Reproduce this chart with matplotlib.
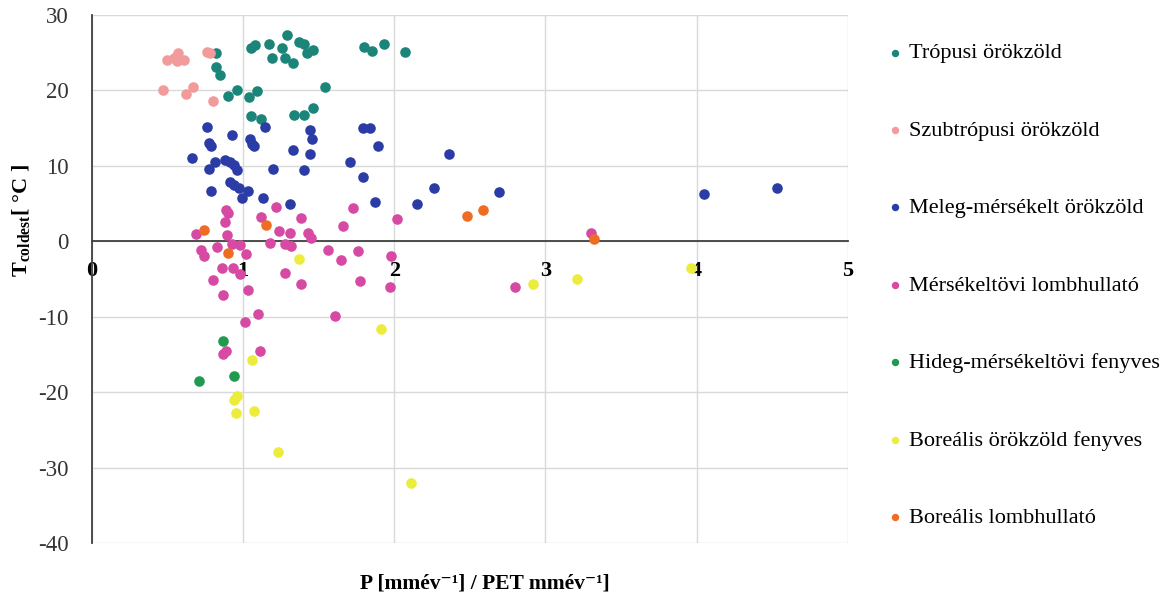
import matplotlib
matplotlib.use("Agg")
import matplotlib.pyplot as plt

serif = ['Liberation Serif', 'DejaVu Serif']
plt.rcParams['font.family'] = serif
plt.rcParams['axes.unicode_minus'] = False
plt.rcParams['mathtext.fontset'] = 'custom'
plt.rcParams['mathtext.rm'] = 'Liberation Serif'
plt.rcParams['mathtext.bf'] = 'Liberation Serif:bold'

# Trópusi örökzöld
trop_x = [0.82, 0.82, 0.85, 0.90, 0.96, 1.04, 1.09, 1.05, 1.12, 1.05, 1.08, 1.17, 1.19, 1.26,
          1.29, 1.28, 1.33, 1.37, 1.40, 1.42, 1.46, 1.34, 1.40, 1.46, 1.54, 1.80, 1.85, 1.93, 2.07]
trop_y = [24.9, 23.1, 22.1, 19.2, 20.1, 19.1, 19.9, 16.6, 16.2, 25.6, 26.0, 26.1, 24.3, 25.6,
          27.3, 24.3, 23.7, 26.4, 26.1, 24.9, 25.4, 16.7, 16.7, 17.7, 20.4, 25.7, 25.2, 26.2, 25.1]

# Szubtrópusi örökzöld
subtrop_x = [0.50, 0.54, 0.57, 0.61, 0.56, 0.76, 0.78, 0.47, 0.62, 0.67, 0.80]
subtrop_y = [24.1, 24.3, 24.9, 24.0, 23.9, 25.1, 24.9, 20.1, 19.5, 20.5, 18.6]

# Meleg-mérsékelt örökzöld
warm_x = [0.76, 0.925, 0.775, 0.786, 0.664, 0.815, 0.777, 0.88, 0.914, 0.94, 0.958, 0.914,
          0.94, 0.974, 1.035, 0.786, 0.99, 1.13, 1.31, 1.046, 1.058, 1.075, 1.146, 1.20, 1.33,
          1.44, 1.455, 1.44, 1.40, 1.79, 1.84, 1.89, 1.71, 1.79, 1.87, 2.15, 2.26, 2.36, 2.69,
          4.05, 4.53]
warm_y = [15.2, 14.1, 13.0, 12.6, 11.1, 10.5, 9.6, 10.8, 10.5, 10.1, 9.4, 7.9,
          7.5, 7.1, 6.7, 6.7, 5.7, 5.7, 5.0, 13.5, 12.9, 12.6, 15.2, 9.6, 12.1,
          14.8, 13.5, 11.6, 9.4, 15.0, 15.0, 12.6, 10.5, 8.5, 5.2, 5.0, 7.0, 11.6, 6.5,
          6.3, 7.0]

# Mérsékeltövi lombhullató
decid_x = [0.887, 0.90, 0.88, 0.69, 0.896, 0.925, 0.98, 0.72, 0.74, 0.826, 1.02, 0.86, 0.936,
           0.98, 0.80, 0.87, 1.035, 1.12, 1.22, 1.24, 1.31, 1.18, 1.28, 1.32, 1.28, 1.38, 1.43,
           1.45, 1.56, 1.38, 1.65, 1.73, 1.66, 2.02, 1.76, 1.98, 1.775, 1.97, 3.30, 2.80, 1.10,
           1.01, 1.61, 0.89, 0.87, 1.11]
decid_y = [4.2, 3.75, 2.6, 1.0, 0.8, -0.3, -0.5, -1.1, -2.0, -0.75, -1.7, -3.6, -3.6,
           -4.3, -5.1, -7.1, -6.4, 3.2, 4.6, 1.4, 1.1, -0.2, -0.4, -0.6, -4.2, 3.1, 1.1,
           0.5, -1.2, -5.6, -2.5, 4.4, 2.0, 2.9, -1.3, -1.9, -5.3, -6.1, 1.1, -6.0, -9.6,
           -10.7, -9.9, -14.6, -14.9, -14.5]

# Hideg-mérsékeltövi fenyves
cold_x = [0.87, 0.94, 0.71]
cold_y = [-13.2, -17.9, -18.5]

# Boreális örökzöld fenyves
boreal_ev_x = [1.06, 0.96, 0.94, 0.95, 1.07, 1.23, 1.37, 1.91, 2.11, 2.92, 3.21, 3.96]
boreal_ev_y = [-15.8, -20.5, -21.1, -22.7, -22.5, -28.0, -2.4, -11.6, -32.1, -5.6, -5.0, -3.5]

# Boreális lombhullató
boreal_de_x = [0.74, 0.90, 1.15, 2.48, 2.59, 3.32]
boreal_de_y = [1.55, -1.5, 2.2, 3.4, 4.2, 0.35]

series = [
    ("Trópusi örökzöld", trop_x, trop_y, "#1b857a"),
    ("Szubtrópusi örökzöld", subtrop_x, subtrop_y, "#f29b9b"),
    ("Meleg-mérsékelt örökzöld", warm_x, warm_y, "#2b3ca6"),
    ("Mérsékeltövi lombhullató", decid_x, decid_y, "#d64aa3"),
    ("Hideg-mérsékeltövi fenyves", cold_x, cold_y, "#1f9a4e"),
    ("Boreális örökzöld fenyves", boreal_ev_x, boreal_ev_y, "#ecec3c"),
    ("Boreális lombhullató", boreal_de_x, boreal_de_y, "#ee6d22"),
]

fig = plt.figure(figsize=(11.63, 6), dpi=100)
ax = fig.add_axes([0.079, 0.095, 0.65, 0.88])

for name, xs, ys, col in series:
    ax.scatter(xs, ys, s=58, color=col, label=name, zorder=3, linewidths=0)

ax.set_xlim(0, 5)
ax.set_ylim(-40, 30)
ax.set_xticks(range(0, 6))
ax.set_yticks(range(-40, 31, 10))
ax.grid(True, color="#d9d9d9", linewidth=1, zorder=0)
ax.set_axisbelow(True)

ax.spines['bottom'].set_position(('data', 0))
ax.spines['bottom'].set_color('#404040')
ax.spines['bottom'].set_linewidth(1.3)
ax.spines['left'].set_color('#404040')
ax.spines['left'].set_linewidth(1.3)
ax.spines['top'].set_visible(False)
ax.spines['right'].set_visible(False)

ax.tick_params(axis='both', length=0)
ax.tick_params(axis='x', pad=14, labelsize=16)
ax.tick_params(axis='y', pad=17, labelsize=16.5, labelcolor='#333333')
for lab in ax.get_xticklabels():
    lab.set_fontweight('bold')

ax.set_xlabel("P [mmév⁻¹] / PET mmév⁻¹]", fontsize=15.5, fontweight='bold')
ax.xaxis.set_label_coords(0.52, -0.058)
ax.set_ylabel(r"T$_{\mathbf{coldest}}$[ °C ]", fontsize=16, fontweight='bold')
ax.yaxis.set_label_coords(-0.078, 0.61)

fig.legend(loc='upper left', bbox_to_anchor=(0.743, 0.962), frameon=False,
           fontsize=16, markerscale=0.7, labelspacing=2.56, handletextpad=0.1,
           handlelength=1.0)

fig.savefig("out.png", dpi=100)
